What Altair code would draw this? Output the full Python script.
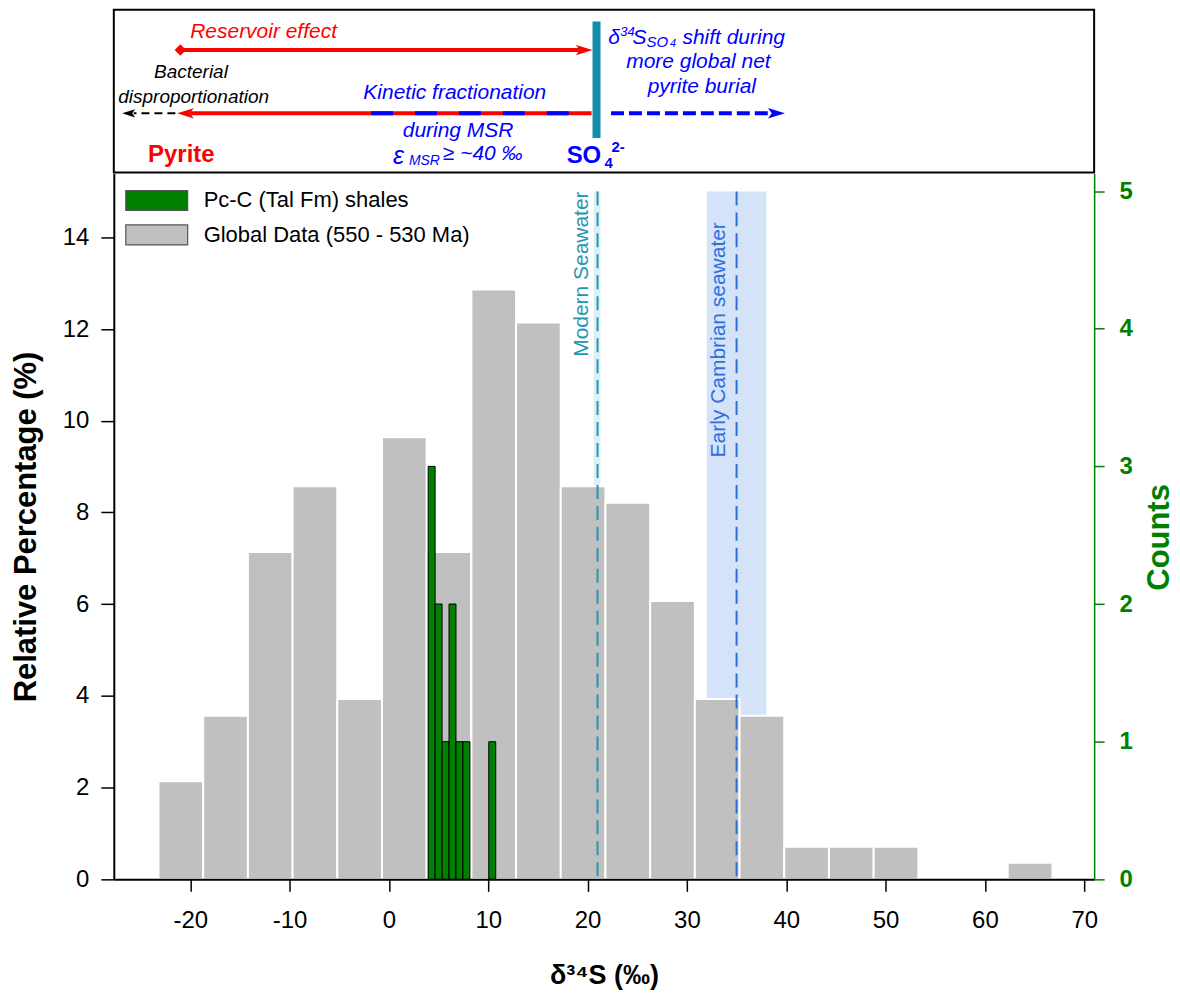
import altair as alt
import pandas as pd

FONT = "Liberation Sans"

# ---------------- data ----------------
# Global data (550 - 530 Ma): relative percentage per delta34S bin
global_bin_start = [-23.2, -18.7, -14.2, -9.7, -5.2, -0.7, 3.8, 8.3, 12.8, 17.3,
                    21.8, 26.3, 30.8, 35.3, 39.8, 44.3, 48.8, 53.3, 57.8, 62.3]
global_bin_end = [-18.7, -14.2, -9.7, -5.2, -0.7, 3.8, 8.3, 12.8, 17.3, 21.8,
                  26.3, 30.8, 35.3, 39.8, 44.3, 48.8, 53.3, 57.8, 62.3, 66.8]
global_pct = [2.14, 3.57, 7.14, 8.57, 3.93, 9.64, 7.14, 12.86, 12.14, 8.57,
              8.21, 6.07, 3.93, 3.57, 0.71, 0.71, 0.71, 0.0, 0.0, 0.36]

# Pc-C (Tal Fm) shales: counts per bin
tal_bin_start = [3.95, 4.65, 5.35, 6.05, 6.75, 7.45, 10.05]
tal_bin_end = [4.65, 5.35, 6.05, 6.75, 7.45, 8.15, 10.75]
tal_counts = [3, 2, 1, 2, 1, 1, 1]

series_names = ["Pc-C (Tal Fm) shales", "Global Data (550 - 530 Ma)"]
series_colors = ["#008000", "#c0c0c0"]

# seawater sulfate references
ref_names = ["Modern Seawater", "Early Cambrian seawater"]
ref_value = [21.0, 35.0]
ref_band_lo = [20.6, 32.0]
ref_band_hi = [21.3, 38.0]
ref_top = [15.0, 15.0]
ref_label_x = [20.0, 33.8]
ref_label_top = [15.0, 14.33]
ref_line_colors = ["#2596b2", "#2d6fdc"]
ref_band_colors = ["#dcf0f6", "#d4e3f8"]

x_ticks = [-20, -10, 0, 10, 20, 30, 40, 50, 60, 70]
y_ticks = [0, 2, 4, 6, 8, 10, 12, 14]
count_ticks = [0, 1, 2, 3, 4, 5]

# schematic panel (x in permil, y in panel units from top)
arrow_from = [-21.0, 20.4, -21.5, 22.36]
arrow_to = [19.2, -20.0, -25.7, 38.6]
arrow_tip = [20.5, -21.33, -26.86, 39.87]
arrow_level = [40.3, 103.7, 103.7, 103.7]
msr_dash_from = -1.8
msr_dash_to = 18.1
sulfate_x = 20.9
sulfate_y = [11.7, 128.3]

top_text = ["Reservoir effect", "Bacterial", "disproportionation",
            "Kinetic fractionation", "during MSR", "ε", "MSR", "≥ ~40 ‰",
            "Pyrite", "SO", "4", "2-", "δ", "34", "S", "SO", "4",
            "shift during", "more global net", "pyrite burial"]
top_text_x = [-12.62, -19.93, -19.66, 6.63, 6.96, 0.40, 2.01, 5.43,
              -20.9, 17.89, 21.71, 22.41, 22.07, 23.30, 24.52, 25.93, 28.3,
              29.55, 31.16, 31.5]
top_text_y = [22.7, 62.0, 87.7, 83.3, 121.0, 146.0, 151.0, 144.0,
              145.0, 146.0, 153.0, 137.0, 28.0, 22.0, 28.0, 32.5, 34.0,
              28.0, 52.7, 77.7]

RED = "#ff0000"
BLUE = "#0000ff"
TEAL = "#138ca8"

# style per text: (color, size, italic, bold, align)
top_text_style = [
    (RED, 21, True, False, "center"),
    ("black", 19, True, False, "center"),
    ("black", 19, True, False, "center"),
    (BLUE, 21, True, False, "center"),
    (BLUE, 21, True, False, "center"),
    (BLUE, 25, True, False, "left"),
    (BLUE, 14, True, False, "left"),
    (BLUE, 21, True, False, "left"),
    (RED, 24, False, True, "center"),
    (BLUE, 24, False, True, "left"),
    (BLUE, 15, False, True, "left"),
    (BLUE, 15, False, True, "left"),
    (BLUE, 21, True, False, "left"),
    (BLUE, 13, True, False, "left"),
    (BLUE, 21, True, False, "left"),
    (BLUE, 15, True, False, "left"),
    (BLUE, 11, True, False, "left"),
    (BLUE, 21, True, False, "left"),
    (BLUE, 21, True, False, "center"),
    (BLUE, 21, True, False, "center"),
]

# ---------------- scales / axes ----------------
X_DOMAIN = [-27.7, 71.0]
xs = alt.Scale(domain=X_DOMAIN, nice=False, zero=False)
xa = alt.Axis(values=x_ticks, title="δ³⁴S (‰)", labelExpr="'' + datum.value",
              grid=False, domainColor="black", domainWidth=2, tickColor="black",
              tickWidth=1.5, tickSize=12, labelFontSize=24, labelColor="black",
              labelPadding=17, labelFont=FONT, titleFont=FONT, titleFontSize=27,
              titleFontWeight="bold", titleColor="black", titlePadding=30,
              zindex=2, labelFlush=False)
ys = alt.Scale(domain=[0, 15.39], nice=False, zero=False)
ya = alt.Axis(values=y_ticks, title="Relative Percentage (%)", grid=False,
              domainColor="black", domainWidth=2, tickColor="black", tickWidth=1.5,
              tickSize=13, labelFontSize=24, labelColor="black", labelPadding=12,
              labelFont=FONT, titleFont=FONT, titleFontSize=31,
              titleFontWeight="bold", titleColor="black", titlePadding=20,
              zindex=2, labelFlush=False)
cs = alt.Scale(domain=[0, 5.127], nice=False, zero=False)
ca = alt.Axis(values=count_ticks, title="Counts", orient="right", grid=False,
              domainColor="#008000", domainWidth=1.5, tickColor="#008000",
              tickWidth=1.5, tickSize=10, labelFontSize=24, labelColor="#008000",
              labelFontWeight="bold", labelPadding=15, labelFont=FONT,
              titleFont=FONT, titleFontSize=31, titleFontWeight="bold",
              titleColor="#008000", titlePadding=12, titleAngle=270,
              titleBaseline="top", titleY=364, zindex=2, labelFlush=False)

legend = alt.Legend(orient="none", legendX=32, legendY=180, title=None,
                    symbolType="M-3.1,-1H3.1V1H-3.1Z", symbolSize=400,
                    symbolStrokeColor="#555555", symbolStrokeWidth=1.2,
                    labelFontSize=22, labelFont=FONT, labelColor="black",
                    labelOffset=36, rowPadding=8.5, padding=0, labelLimit=500)
color_enc = alt.Color("series:N", scale=alt.Scale(domain=series_names,
                                                  range=series_colors),
                      legend=legend)

W, H_MAIN, H_TOP = 982, 707, 163

# ---------------- main panel ----------------
gdf = pd.DataFrame({"start": global_bin_start, "end": global_bin_end,
                    "pct": global_pct, "series": series_names[1]})
tdf = pd.DataFrame({"start": tal_bin_start, "end": tal_bin_end,
                    "count": tal_counts, "series": series_names[0]})

pct_layers = []
for i in range(len(ref_names)):
    bdf = pd.DataFrame({"lo": [ref_band_lo[i]], "hi": [ref_band_hi[i]],
                        "top": [ref_top[i]]})
    pct_layers.append(
        alt.Chart(bdf).mark_rect(color=ref_band_colors[i]).encode(
            x=alt.X("lo:Q", scale=xs, axis=xa), x2="hi:Q",
            y=alt.Y("top:Q", scale=ys, axis=ya), y2=alt.datum(0)))

gray = alt.Chart(gdf).mark_rect(stroke="white", strokeWidth=2).encode(
    x=alt.X("start:Q", scale=xs, axis=xa), x2="end:Q",
    y=alt.Y("pct:Q", scale=ys, axis=ya), y2=alt.datum(0),
    color=color_enc)
pct_layers.append(gray)

for i in range(len(ref_names)):
    ldf = pd.DataFrame({"v": [ref_value[i]], "top": [ref_top[i]],
                        "lx": [ref_label_x[i]], "ly": [ref_label_top[i]],
                        "name": [ref_names[i]]})
    pct_layers.append(
        alt.Chart(ldf).mark_rule(color=ref_line_colors[i], strokeWidth=2,
                                 strokeDash=[14, 7]).encode(
            x=alt.X("v:Q", scale=xs, axis=xa),
            y=alt.Y("top:Q", scale=ys, axis=ya), y2=alt.datum(0)))
    pct_layers.append(
        alt.Chart(ldf).mark_text(angle=270, align="right", baseline="alphabetic",
                                 fontSize=21, font=FONT,
                                 color=ref_line_colors[i]).encode(
            x=alt.X("lx:Q", scale=xs, axis=xa),
            y=alt.Y("ly:Q", scale=ys, axis=ya), text="name:N"))

pct_chart = alt.layer(*pct_layers)

green = alt.Chart(tdf).mark_rect(stroke="black", strokeWidth=1).encode(
    x=alt.X("start:Q", scale=xs, axis=xa), x2="end:Q",
    y=alt.Y("count:Q", scale=cs, axis=ca), y2=alt.datum(0),
    color=color_enc)

main = alt.layer(pct_chart, green).resolve_scale(y="independent").properties(
    width=W, height=H_MAIN, view=alt.ViewBackground(strokeWidth=0))

# ---------------- schematic panel ----------------
txs = alt.Scale(domain=X_DOMAIN, nice=False, zero=False)
tys = alt.Scale(domain=[0, H_TOP], nice=False, zero=False, reverse=True)


def seg(x1, x2, y, color, width, dash=None):
    df = pd.DataFrame({"x1": [x1], "x2": [x2], "y": [y]})
    kw = dict(color=color, strokeWidth=width, strokeCap="butt")
    if dash:
        kw["strokeDash"] = dash
    return alt.Chart(df).mark_rule(**kw).encode(
        x=alt.X("x1:Q", scale=txs, axis=None), x2="x2:Q",
        y=alt.Y("y:Q", scale=tys, axis=None))


HEAD_R = "M0,0L-2,-0.62L-1.55,0L-2,0.62Z"
HEAD_L = "M0,0L2,-0.62L1.55,0L2,0.62Z"


def head(x, y, color, size, path):
    df = pd.DataFrame({"x": [x], "y": [y]})
    return alt.Chart(df).mark_point(shape=path, filled=True, size=size,
                                    color=color, opacity=1, strokeWidth=0).encode(
        x=alt.X("x:Q", scale=txs, axis=None),
        y=alt.Y("y:Q", scale=tys, axis=None))


top_layers = []
arrow_colors = [RED, RED, "black", BLUE]
arrow_widths = [4, 4, 2, 4]
arrow_dash = [None, None, [8, 5], [13, 5]]
arrow_paths = [HEAD_R, HEAD_L, HEAD_L, HEAD_R]
arrow_sizes = [280, 280, 170, 290]
for i in range(4):
    top_layers.append(seg(arrow_from[i], arrow_to[i], arrow_level[i],
                          arrow_colors[i], arrow_widths[i], arrow_dash[i]))
    top_layers.append(head(arrow_tip[i], arrow_level[i], arrow_colors[i],
                           arrow_sizes[i], arrow_paths[i]))
# diamond start of reservoir arrow
ddf = pd.DataFrame({"x": [arrow_from[0]], "y": [arrow_level[0]]})
top_layers.append(alt.Chart(ddf).mark_point(shape="diamond", filled=True,
                                            size=130, color=RED, opacity=1).encode(
    x=alt.X("x:Q", scale=txs, axis=None), y=alt.Y("y:Q", scale=tys, axis=None)))
# blue dashes on kinetic arrow
top_layers.append(seg(msr_dash_from, msr_dash_to, arrow_level[1], BLUE, 4, [22, 22]))
# sulfate bar
sdf = pd.DataFrame({"x": [sulfate_x], "y1": [sulfate_y[0]], "y2": [sulfate_y[1]]})
top_layers.append(alt.Chart(sdf).mark_rule(color=TEAL, strokeWidth=8,
                                           strokeCap="butt").encode(
    x=alt.X("x:Q", scale=txs, axis=None),
    y=alt.Y("y1:Q", scale=tys, axis=None), y2="y2:Q"))

for i, t in enumerate(top_text):
    col, fs, it, bd, al = top_text_style[i]
    df = pd.DataFrame({"x": [top_text_x[i]], "y": [top_text_y[i]], "t": [t]})
    kw = dict(color=col, fontSize=fs, font=FONT, align=al, baseline="middle")
    if it:
        kw["fontStyle"] = "italic"
    if bd:
        kw["fontWeight"] = "bold"
    top_layers.append(alt.Chart(df).mark_text(**kw).encode(
        x=alt.X("x:Q", scale=txs, axis=None),
        y=alt.Y("y:Q", scale=tys, axis=None), text="t:N"))

top = alt.layer(*top_layers).properties(
    width=W, height=H_TOP,
    view=alt.ViewBackground(stroke="black", strokeWidth=2))

chart = alt.vconcat(top, main, spacing=0).resolve_scale(
    x="independent", y="independent").properties(
    padding={"left": 10, "top": 8, "right": 5, "bottom": 5}
).configure(font=FONT).configure_view(stroke=None)

chart.save("out.html", embed_options={"renderer": "svg", "actions": False})
